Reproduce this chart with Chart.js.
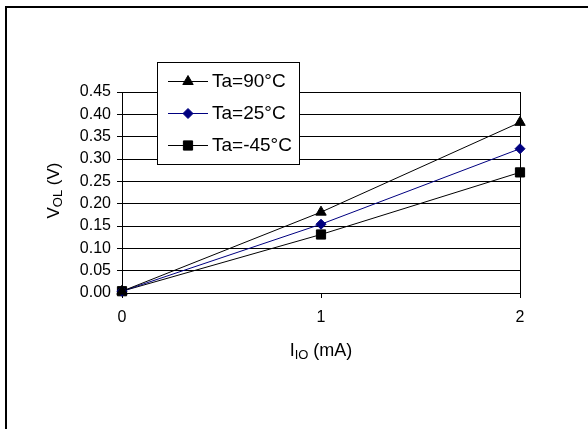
<!DOCTYPE html>
<html>
<head>
<meta charset="utf-8">
<script src="https://cdn.jsdelivr.net/npm/chart.js@4/dist/chart.umd.min.js"></script>
<style>
html,body{margin:0;padding:0;background:#fff;}
canvas{display:block;}
</style>
</head>
<body>
<canvas id="c" width="588" height="429"></canvas>
<script>
const xValues = [0, 1, 2];
const seriesLabels = ['Ta=90°C', 'Ta=25°C', 'Ta=-45°C'];
const ta90 = [0.004, 0.181, 0.382];
const ta25 = [0.004, 0.154, 0.323];
const taM45 = [0.004, 0.131, 0.270];
const yTickValues = [0, 0.05, 0.10, 0.15, 0.20, 0.25, 0.30, 0.35, 0.40, 0.45];
const xTickValues = [0, 1, 2];

const FONT = 'Arial, "Liberation Sans", sans-serif';
const toPts = arr => arr.map((v, i) => ({x: xValues[i], y: v}));

const frame = {
  id: 'frame',
  beforeDraw(chart) {
    const ctx = chart.ctx;
    ctx.save();
    ctx.fillStyle = '#fff';
    ctx.fillRect(0, 0, chart.width, chart.height);
    ctx.strokeStyle = '#000';
    ctx.lineWidth = 2;
    ctx.strokeRect(6, 7, 600, 440);
    ctx.restore();
  }
};

const titles = {
  id: 'titles',
  afterDraw(chart) {
    const ctx = chart.ctx;
    const ca = chart.chartArea;
    ctx.save();
    ctx.fillStyle = '#000';
    ctx.textBaseline = 'alphabetic';
    const big = '17px ' + FONT, small = '13px ' + FONT;
    // Y title: V_OL (V)
    ctx.font = big; const wV = ctx.measureText('V').width; const wP = ctx.measureText(' (V)').width;
    ctx.font = small; const wS = ctx.measureText('OL').width;
    const tot = wV + wS + wP;
    ctx.translate(59, (ca.top + ca.bottom) / 2 - 2);
    ctx.rotate(-Math.PI / 2);
    let x = -tot / 2;
    ctx.font = big; ctx.fillText('V', x, 0); x += wV;
    ctx.font = small; ctx.fillText('OL', x, 3); x += wS;
    ctx.font = big; ctx.fillText(' (V)', x, 0);
    ctx.setTransform(1, 0, 0, 1, 0, 0);
    // X title: I_IO (mA)
    const bigX = '18px ' + FONT;
    ctx.font = bigX; const wI = ctx.measureText('I').width; const wM = ctx.measureText(' (mA)').width;
    ctx.font = small; const wIO = ctx.measureText('IO').width;
    const tot2 = wI + wIO + wM;
    let x2 = (ca.left + ca.right) / 2 - tot2 / 2;
    const yb = 356;
    ctx.font = bigX; ctx.fillText('I', x2, yb); x2 += wI;
    ctx.font = small; ctx.fillText('IO', x2, yb + 3); x2 += wIO;
    ctx.font = bigX; ctx.fillText(' (mA)', x2, yb);
    ctx.restore();
  }
};

const legendBox = {
  id: 'legendBox',
  afterDraw(chart) {
    const ctx = chart.ctx;
    ctx.save();
    ctx.fillStyle = '#fff';
    ctx.fillRect(157, 62, 142, 102);
    ctx.strokeStyle = '#000';
    ctx.lineWidth = 1;
    ctx.strokeRect(157.5, 62.5, 142, 102);
    chart.data.datasets.forEach((ds, i) => {
      const y = 81 + i * 32;
      ctx.strokeStyle = ds.borderColor;
      ctx.lineWidth = 1;
      ctx.beginPath();
      ctx.moveTo(168, y + 0.5);
      ctx.lineTo(208, y + 0.5);
      ctx.stroke();
      ctx.fillStyle = ds.pointBackgroundColor;
      ctx.strokeStyle = ds.pointBorderColor;
      Chart.helpers.drawPoint(ctx, {pointStyle: ds.pointStyle, radius: ds.pointRadius, borderWidth: 1, rotation: 0}, 188, y + 0.5);
      ctx.fillStyle = '#000';
      ctx.font = '19px ' + FONT;
      ctx.textBaseline = 'middle';
      ctx.fillText(ds.label, 212, y + 1);
    });
    ctx.restore();
  }
};

new Chart(document.getElementById('c'), {
  type: 'scatter',
  data: {
    datasets: [
      {label: seriesLabels[0], data: toPts(ta90), showLine: true, borderColor: '#000', borderWidth: 1,
       pointStyle: 'triangle', pointRadius: 6, pointBackgroundColor: '#000', pointBorderColor: '#000', clip: false},
      {label: seriesLabels[1], data: toPts(ta25), showLine: true, borderColor: '#000080', borderWidth: 1,
       pointStyle: 'rectRot', pointRadius: 5, pointBackgroundColor: '#000080', pointBorderColor: '#000080', clip: false},
      {label: seriesLabels[2], data: toPts(taM45), showLine: true, borderColor: '#000', borderWidth: 1,
       pointStyle: 'rect', pointRadius: 6.5, pointBackgroundColor: '#000', pointBorderColor: '#000', clip: false}
    ]
  },
  options: {
    responsive: false,
    animation: false,
    events: [],
    layout: {padding: {left: 0, top: 92, right: 68, bottom: 0}},
    plugins: {legend: {display: false}, tooltip: {enabled: false}},
    scales: {
      x: {
        type: 'linear', min: 0, max: 2,
        afterFit: s => { s.height = 136; },
        afterBuildTicks: s => { s.ticks = xTickValues.map(v => ({value: v})); },
        ticks: {font: {family: FONT, size: 16}, color: '#000', padding: 10, callback: v => String(v)},
        grid: {color: c => (c.tick && c.tick.value === 2) ? '#000' : 'rgba(0,0,0,0)', tickColor: '#000', tickLength: 5, lineWidth: 1},
        border: {display: true, color: '#000', width: 1}
      },
      y: {
        type: 'linear', min: 0, max: 0.45,
        afterFit: s => { s.width = 122; },
        afterBuildTicks: s => { s.ticks = yTickValues.map(v => ({value: v})); },
        ticks: {font: {family: FONT, size: 16}, color: '#000', padding: 6, callback: v => v.toFixed(2)},
        grid: {color: '#000', tickColor: '#000', tickLength: 5, lineWidth: 1},
        border: {display: true, color: '#000', width: 1}
      }
    }
  },
  plugins: [frame, titles, legendBox]
});
</script>
</body>
</html>
